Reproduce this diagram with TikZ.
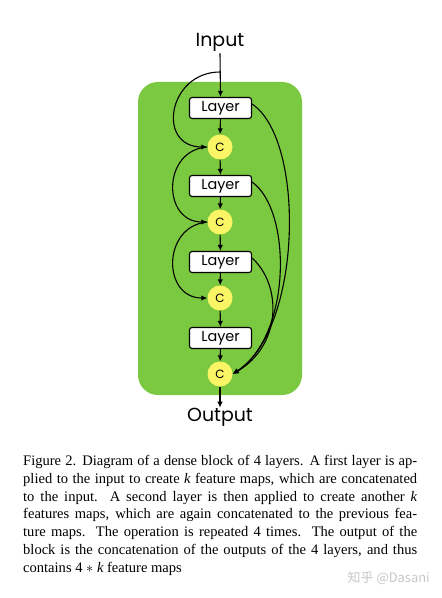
\documentclass[tikz,border=0pt]{standalone}
\usepackage{fontspec}
\setmainfont{Liberation Serif}
\newfontfamily\diagfont{Poppins}
\newfontfamily\cjk{Noto Sans CJK SC}
\usetikzlibrary{arrows.meta}
\definecolor{blockgreen}{RGB}{122,201,64}
\definecolor{cyellow}{RGB}{250,245,100}
\definecolor{wmgray}{RGB}{200,200,200}
\newcommand{\kvar}{{\itshape k}}
\tikzset{
  layerbox/.style={draw=black, fill=white, rounded corners=2.5bp, line width=1.1pt,
    minimum width=62bp, minimum height=21bp, inner sep=0pt, font=\diagfont\fontsize{14.5}{14.5}\selectfont},
  cnode/.style={circle, fill=cyellow, minimum size=25bp, inner sep=0pt, font=\diagfont\fontsize{12}{12}\selectfont},
  flow/.style={line width=1.1pt, -{Latex[length=6bp,width=5.5bp]}},
  iolabel/.style={inner sep=0pt, font=\diagfont\fontsize{19}{19}\selectfont},
}
\begin{document}
\begin{tikzpicture}[x=1bp,y=-1bp]
\useasboundingbox[fill=white] (0,0) rectangle (442,598);
\fill[blockgreen, rounded corners=20bp] (138,82) rectangle (302,395);
\node[iolabel] (in) at (220,42) {Input};
\node[iolabel] (out) at (220,417) {Output};
\node[layerbox] (L1) at (220.5,108) {Layer};
\node[layerbox] (L2) at (220.5,186) {Layer};
\node[layerbox] (L3) at (220.5,262) {Layer};
\node[layerbox] (L4) at (220.5,338) {Layer};
\node[cnode] (C1) at (220,147) {C};
\node[cnode] (C2) at (220,222) {C};
\node[cnode] (C3) at (220,298) {C};
\node[cnode] (C4) at (220,374) {C};
\coordinate (br) at (220,72);
\draw[flow] (in.south) ++(0,2) coordinate (ins) -- (L1.north);
\draw[flow] (L1) -- (C1);
\draw[flow] (C1) -- (L2);
\draw[flow] (L2) -- (C2);
\draw[flow] (C2) -- (L3);
\draw[flow] (L3) -- (C3);
\draw[flow] (C3) -- (L4);
\draw[flow] (L4) -- (C4);
\draw[flow] (C4) -- (out.north);
% left bypasses
\draw[flow] (br) .. controls (168,72) and (156,147) .. (C1.west);
\draw[flow] (C1.west) .. controls (162,150) and (162,222) .. (C2.west);
\draw[flow] (C2.west) .. controls (162,226) and (162,298) .. (C3.west);
% right bypasses
\draw[flow] ([yshift=4bp]L1.east) .. controls (306,140) and (302,330) .. (C4.east);
\draw[flow] ([yshift=4bp]L2.east) .. controls (292,210) and (292,335) .. (C4.east);
\draw[flow] ([yshift=4bp]L3.east) .. controls (282,285) and (282,345) .. (C4.east);
\node[anchor=north west, inner sep=0pt, text width=394bp, align=justify,
  font=\fontsize{14.6}{17.9}\selectfont] (cap) at (23,455) {%
Figure 2. Diagram of a dense block of 4 layers. A first layer is ap-\linebreak
plied to the input to create \kvar{} feature maps, which are concatenated\linebreak
to the input.\ \ A second layer is then applied to create another \kvar\linebreak
features maps, which are again concatenated to the previous fea-\linebreak
ture maps.\ \ The operation is repeated 4 times.\ \ The output of the\linebreak
block is the concatenation of the outputs of the 4 layers, and thus\linebreak
contains 4 $*$ \kvar{} feature maps};
\node[anchor=east, inner sep=0pt, text=wmgray, font=\cjk\fontsize{13}{13}\selectfont] (wm) at (430,578) {知乎 @Dasani};
\end{tikzpicture}
\end{document}
